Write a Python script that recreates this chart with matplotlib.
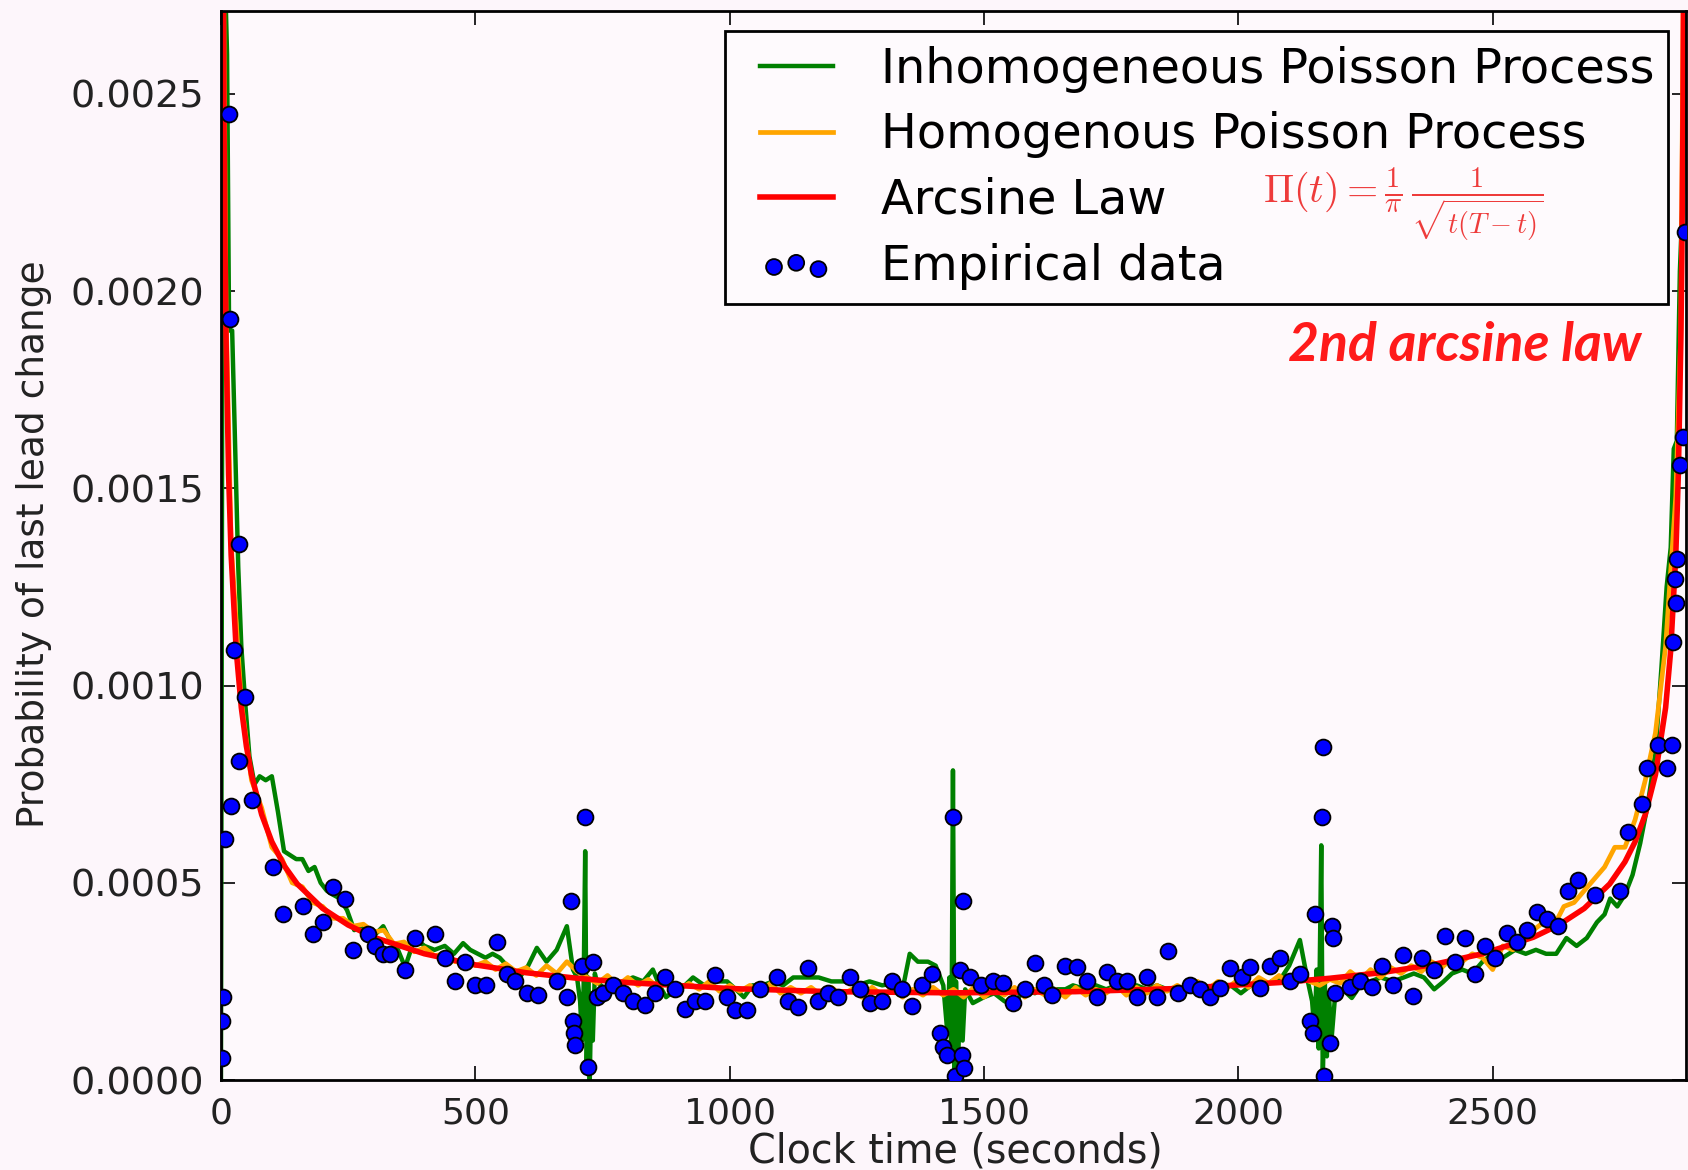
import numpy as np
import matplotlib
matplotlib.use("Agg")
import matplotlib.pyplot as plt
from matplotlib.ticker import FormatStrFormatter
from matplotlib.lines import Line2D
from matplotlib.collections import PathCollection
from matplotlib.legend_handler import HandlerLine2D, HandlerPathCollection

# empirical data: (clock time in seconds, probability x 1e-4)
emp_t = [2, 3, 4, 8, 15, 17, 19, 25, 36, 36, 47, 61, 102, 121, 161, 181, 201, 220,
         244, 260, 289, 303, 319, 332, 362, 381, 421, 440, 460, 480, 499, 522, 542,
         562, 578, 601, 623, 660, 680, 688, 692, 694, 696, 710, 716, 721, 731, 739,
         751, 770, 790, 810, 834, 853, 873, 892, 912, 932, 951, 971, 995, 1010, 1034,
         1060, 1093, 1115, 1134, 1154, 1174, 1194, 1213, 1236, 1256, 1276, 1299, 1319,
         1338, 1358, 1378, 1398, 1413, 1419, 1427, 1439, 1443, 1453, 1457, 1459, 1461,
         1472, 1495, 1518, 1537, 1557, 1580, 1600, 1618, 1633, 1659, 1683, 1702, 1722,
         1742, 1761, 1781, 1801, 1820, 1840, 1862, 1881, 1905, 1924, 1944, 1964, 1983,
         2007, 2023, 2042, 2062, 2082, 2101, 2121, 2141, 2147, 2151, 2164, 2166, 2168,
         2180, 2184, 2186, 2190, 2219, 2240, 2262, 2282, 2304, 2324, 2343, 2361, 2385,
         2406, 2425, 2445, 2465, 2485, 2505, 2528, 2548, 2567, 2587, 2607, 2628, 2648,
         2668, 2701, 2750, 2766, 2794, 2804, 2825, 2842, 2853, 2855, 2858, 2861, 2862,
         2868, 2874, 2878]
emp_v = [0.57, 1.5, 2.1, 6.1, 24.5, 19.3, 6.95, 10.9, 8.1, 13.6, 9.7, 7.1, 5.4, 4.2,
         4.4, 3.7, 4.0, 4.9, 4.6, 3.3, 3.7, 3.4, 3.2, 3.2, 2.8, 3.6, 3.7, 3.1, 2.5, 3.0,
         2.4, 2.4, 3.5, 2.7, 2.5, 2.2, 2.15, 2.5, 2.1, 4.53, 1.5, 1.2, 0.9, 2.9, 6.66,
         0.33, 3.0, 2.1, 2.2, 2.4, 2.2, 2.0, 1.9, 2.2, 2.6, 2.3, 1.8, 2.0, 2.0, 2.65,
         2.1, 1.77, 1.77, 2.3, 2.6, 2.0, 1.85, 2.84, 2.0, 2.2, 2.1, 2.6, 2.3, 1.95, 2.0,
         2.5, 2.3, 1.87, 2.4, 2.7, 1.2, 0.84, 0.63, 6.66, 0.1, 2.8, 0.63, 4.53, 0.3, 2.6,
         2.4, 2.5, 2.45, 1.95, 2.3, 2.97, 2.4, 2.15, 2.9, 2.87, 2.5, 2.1, 2.74, 2.5, 2.5,
         2.1, 2.6, 2.1, 3.27, 2.2, 2.4, 2.3, 2.1, 2.33, 2.84, 2.6, 2.87, 2.33, 2.9, 3.1,
         2.5, 2.7, 1.5, 1.2, 4.2, 6.66, 8.43, 0.1, 0.94, 3.9, 3.6, 2.2, 2.35, 2.5, 2.35,
         2.9, 2.4, 3.17, 2.13, 3.1, 2.8, 3.65, 3.0, 3.6, 2.7, 3.4, 3.1, 3.72, 3.5, 3.8,
         4.25, 4.08, 3.9, 4.8, 5.07, 4.7, 4.8, 6.28, 7.0, 7.9, 8.5, 7.9, 8.5, 11.1, 12.7,
         12.1, 13.2, 15.6, 16.3, 21.5]

# inhomogeneous poisson process
inh_t = [0, 4, 8, 12, 16, 22, 28, 34, 40, 48, 56, 66, 76, 88, 100, 112, 124, 136, 148,
         160, 172, 184, 196, 208, 220, 234, 248, 262, 276, 290, 304, 319, 334, 348, 362,
         381, 400, 420, 440, 458, 476, 490, 505, 520, 534, 548, 562, 574, 587, 604, 621,
         640, 660, 680, 692, 700, 706, 710, 713, 716, 719, 722, 725, 728, 731, 735, 739,
         755, 770, 790, 810, 830, 849, 862, 875, 895, 912, 928, 950, 970, 995, 1012, 1028,
         1045, 1065, 1085, 1105, 1125, 1150, 1175, 1200, 1225, 1250, 1275, 1300, 1320,
         1340, 1354, 1370, 1390, 1405, 1420, 1428, 1432, 1436, 1439, 1442, 1445, 1449,
         1453, 1458, 1463, 1478, 1500, 1520, 1540, 1557, 1580, 1600, 1620, 1640, 1660,
         1675, 1700, 1720, 1740, 1760, 1780, 1800, 1820, 1840, 1860, 1880, 1900, 1920,
         1944, 1964, 1985, 2005, 2025, 2045, 2065, 2085, 2100, 2121, 2135, 2145, 2150,
         2154, 2158, 2163, 2166, 2170, 2174, 2178, 2183, 2190, 2205, 2223, 2240, 2260,
         2280, 2304, 2325, 2345, 2365, 2385, 2402, 2420, 2440, 2460, 2480, 2500, 2520,
         2544, 2565, 2585, 2605, 2625, 2645, 2665, 2685, 2705, 2720, 2731, 2745, 2760,
         2775, 2790, 2805, 2820, 2832, 2842, 2850, 2856, 2862, 2868, 2874, 2880]
inh_v = [0, 29, 28, 26, 19, 19, 16, 13, 11, 9.5, 8.2, 7.5, 7.7, 7.6, 7.7, 6.8, 5.8, 5.7,
         5.6, 5.6, 5.3, 5.4, 5.0, 4.8, 4.7, 4.6, 4.3, 3.8, 3.9, 3.8, 3.7, 3.9, 3.5, 3.3,
         2.86, 3.6, 3.4, 3.3, 3.4, 3.2, 3.47, 3.3, 3.2, 3.1, 3.2, 3.1, 2.9, 2.7, 2.6, 2.9,
         3.35, 3.0, 3.3, 3.9, 2.8, 2.6, 2.0, 1.0, 2.4, 5.8, 0.3, 2.6, 0, 2.2, 1.0, 2.7,
         2.5, 2.3, 2.3, 2.5, 2.6, 2.5, 2.8, 2.4, 2.1, 2.3, 2.4, 2.6, 2.4, 2.5, 2.5, 2.3,
         2.1, 2.4, 2.4, 2.5, 2.4, 2.6, 2.6, 2.6, 2.5, 2.5, 2.4, 2.5, 2.4, 2.45, 2.3, 3.2,
         3.0, 3.0, 2.9, 2.4, 1.2, 2.6, 0.5, 7.85, 0, 2.5, 0.4, 2.2, 1.0, 2.3, 1.95, 2.1,
         2.2, 2.0, 1.9, 2.3, 2.2, 2.4, 2.3, 2.3, 2.4, 2.3, 2.4, 2.3, 2.4, 2.3, 2.4, 2.3,
         2.4, 2.3, 2.35, 2.3, 2.4, 2.3, 2.3, 2.4, 2.2, 2.4, 2.3, 2.5, 2.6, 2.9, 3.55,
         2.6, 2.0, 1.2, 2.8, 0.8, 5.95, 0, 2.5, 0.6, 2.2, 1.0, 2.1, 2.3, 2.08, 2.4, 2.5,
         2.6, 2.5, 2.6, 2.7, 2.6, 2.3, 2.48, 2.7, 2.8, 2.7, 3.0, 3.2, 3.1, 3.3, 3.2, 3.3,
         3.2, 3.2, 3.6, 3.4, 3.6, 4.0, 4.2, 4.6, 4.4, 4.7, 5.2, 6.0, 7.0, 8.3, 10.5,
         12.5, 13.5, 16.0, 16.2, 20.5, 22.5, 29]

# homogenous poisson process
hom_t = [4, 10] + list(range(20, 2861, 20)) + [2870, 2876]
hom_v = [30, 19.5, 13.6, 9.6, 7.6, 6.9, 5.9, 5.6, 5.0, 4.9, 4.5, 4.4, 4.1, 4.1, 3.9,
         3.95, 3.75, 3.8, 3.45, 3.5, 3.25, 3.35, 3.15, 3.2, 3.0, 3.1, 2.9, 3.0, 2.8, 2.95,
         2.75, 2.85, 2.65, 2.9, 2.7, 3.0, 2.75, 2.6, 2.45, 2.65, 2.4, 2.6, 2.4, 2.55, 2.35,
         2.5, 2.3, 2.45, 2.3, 2.5, 2.25, 2.4, 2.25, 2.4, 2.2, 2.45, 2.2, 2.35, 2.2, 2.35,
         2.15, 2.35, 2.15, 2.3, 2.1, 2.35, 2.15, 2.3, 2.1, 2.3, 2.15, 2.35, 2.15, 2.3, 2.1,
         2.35, 2.1, 2.3, 2.15, 2.35, 2.1, 2.3, 2.15, 2.3, 2.1, 2.35, 2.15, 2.3, 2.2, 2.4,
         2.15, 2.35, 2.2, 2.4, 2.25, 2.4, 2.25, 2.5, 2.3, 2.5, 2.35, 2.55, 2.35, 2.6, 2.45,
         2.65, 2.45, 2.6, 2.5, 2.4, 2.55, 2.45, 2.75, 2.55, 2.8, 2.6, 2.85, 2.7, 2.9, 2.75,
         3.0, 2.85, 3.1, 3.0, 3.2, 3.1, 2.8, 3.4, 3.3, 3.6, 3.8, 4.0, 3.9, 4.4, 4.5, 4.8,
         5.1, 5.4, 5.9, 5.9, 6.6, 7.6, 8.8, 11.0, 14.8, 19.0, 30]

# arcsine law curve
arc_t = [2, 4, 6, 8, 10, 15, 20, 30, 40, 50, 60, 80, 100, 125, 150, 200, 250, 300, 400,
         500, 600, 700, 800, 1000, 1200, 1440, 1680, 1880, 2080, 2180, 2280, 2380, 2480,
         2580, 2630, 2680, 2730, 2760, 2780, 2800, 2820, 2840, 2850, 2860, 2865, 2870,
         2872, 2874, 2876, 2878]
arc_v = [41.96, 29.68, 24.24, 21.0, 18.79, 15.35, 13.31, 10.89, 9.44, 8.46, 7.74, 6.73,
         6.04, 5.42, 4.97, 4.35, 3.93, 3.62, 3.20, 2.92, 2.72, 2.58, 2.47, 2.32, 2.24,
         2.21, 2.24, 2.32, 2.47, 2.58, 2.72, 2.92, 3.20, 3.62, 3.93, 4.35, 4.97, 5.53,
         6.04, 6.73, 7.74, 9.44, 10.89, 13.31, 15.35, 18.79, 21.0, 24.24, 29.68, 41.96]

labels = ["Inhomogeneous Poisson Process", "Homogenous Poisson Process",
          "Arcsine Law", "Empirical data"]

bg = "#fdf6fb"
fig = plt.figure(figsize=(16.88, 11.7), dpi=100, facecolor=bg)
ax = fig.add_axes([0.1309, 0.0769, 0.8679, 0.9137])
ax.set_facecolor("#fef9fc")

sc = 1e-4
ax.plot(inh_t, np.array(inh_v) * sc, color="g", lw=3.2, label=labels[0])
ax.plot(hom_t, np.array(hom_v) * sc, color="orange", lw=3.4, label=labels[1])
ax.plot(arc_t, np.array(arc_v) * sc, color="r", lw=4, label=labels[2])
ax.scatter(emp_t, np.array(emp_v) * sc, s=130, c="b", edgecolors="k",
           linewidths=1.3, zorder=3, label=labels[3])

ax.set_xlim(0, 2880)
ax.set_ylim(0, 0.00271)
ax.set_xticks([0, 500, 1000, 1500, 2000, 2500])
ax.set_yticks([0, 0.0005, 0.001, 0.0015, 0.002, 0.0025])
ax.yaxis.set_major_formatter(FormatStrFormatter("%.4f"))
ax.tick_params(direction="in", top=True, right=True, length=10, width=1.2,
               labelsize=26, pad=12, colors="k", labelcolor="#222222")
ax.tick_params(axis="y", labelsize=27.5)
for sp in ax.spines.values():
    sp.set_linewidth(2)

hmap = {Line2D: HandlerLine2D(xpad=0.43),
        PathCollection: HandlerPathCollection(xpad=0.43)}
leg = ax.legend(loc="upper right", bbox_to_anchor=(0.988, 0.981), borderaxespad=0,
                fontsize=34.4, frameon=True, fancybox=False, handlelength=1.96,
                handletextpad=1.0, borderpad=0.3, labelspacing=0.39,
                scatterpoints=3, scatteryoffsets=[0.375, 0.5, 0.3125],
                markerscale=1.0, handler_map=hmap)
leg.get_frame().set_edgecolor("k")
leg.get_frame().set_linewidth(2)
leg.get_frame().set_facecolor("#fefafd")
leg.get_frame().set_alpha(1)

ax.text(0.807, 0.819, r"$\Pi(t) = \frac{1}{\pi}\,\frac{1}{\sqrt{t(T-t)}}$",
        transform=ax.transAxes, ha="center", va="center", fontsize=29,
        color="#ee3b3b", math_fontfamily="cm", zorder=10)
ax.text(0.849, 0.687, "2nd arcsine law", transform=ax.transAxes, ha="center",
        va="center", fontsize=38.5, color="#ff1a1a", family="Lato",
        fontweight="bold", fontstyle="italic", zorder=10)

fig.text(0.0201, 0.535, "Probability of last lead change", rotation=90,
         ha="center", va="center", fontsize=27, color="#222222")
fig.text(0.566, 0.0154, "Clock time (seconds)", ha="center", va="center",
         fontsize=28.5, color="#222222")

fig.savefig("out.png", dpi=100, facecolor=bg)
